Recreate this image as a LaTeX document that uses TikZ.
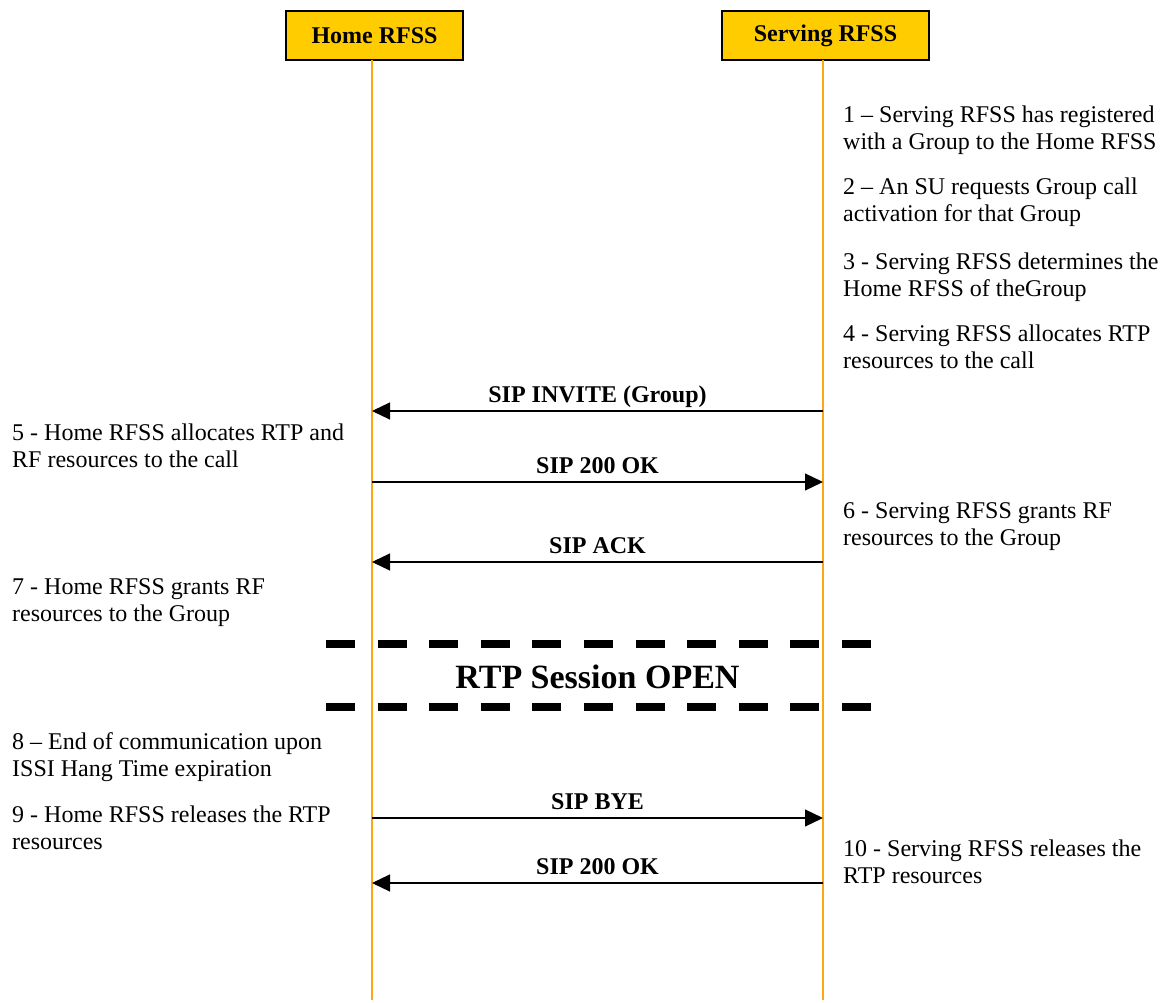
\documentclass[tikz,border=0pt]{standalone}
\usepackage{fontspec}
\setmainfont{Liberation Serif}
\usetikzlibrary{arrows.meta}
\definecolor{boxfill}{RGB}{255,204,0}
\definecolor{lifeorange}{RGB}{255,165,20}
\tikzset{
  entity/.style={draw=black, line width=1.5pt, fill=boxfill, inner sep=0pt,
    minimum height=49pt, font=\fontsize{24}{27}\selectfont\bfseries},
  life/.style={draw=lifeorange, line width=1.5pt},
  msg/.style={draw=black, line width=1.2pt, -{Triangle[length=18pt,width=17pt]}},
  lab/.style={font=\fontsize{24}{27}\selectfont\bfseries, anchor=base, inner sep=0pt, yshift=9pt},
  note/.style={font=\fontsize{24}{27}\selectfont, anchor=base west, inner sep=0pt, align=left},
  sess/.style={draw=black, line width=8pt, dash pattern=on 29pt off 22.6pt},
  sesstext/.style={font=\fontsize{34}{40}\selectfont\bfseries, anchor=base, inner sep=0pt}
}
\begin{document}
\begin{tikzpicture}[x=1pt,y=-1pt]
\useasboundingbox (0,0) rectangle (1165,1003);
% entities
\node[entity, minimum width=177pt] (home) at (374.5,35.5) {Home RFSS};
\node[entity, minimum width=207pt] (serv) at (825.5,35.5) {Serving RFSS};
% lifelines
\coordinate (hTop) at (372,60);
\coordinate (hEnd) at (372,1000);
\coordinate (sTop) at (823,60);
\coordinate (sEnd) at (823,1000);
\draw[life] (hTop) -- (hEnd);
\draw[life] (sTop) -- (sEnd);
% notes right (anchor = baseline of last line)
\node[note] (n1) at (843,150) {1 – Serving RFSS has registered\\with a Group to the Home RFSS};
\node[note] (n2) at (843,222) {2 – An SU requests Group call\\activation for that Group};
\node[note] (n3) at (843,296) {3 - Serving RFSS determines the\\Home RFSS of theGroup};
\node[note] (n4) at (843,368) {4 - Serving RFSS allocates RTP\\resources to the call};
\node[note] (n6) at (843,545) {6 - Serving RFSS grants RF\\resources to the Group};
\node[note] (n10) at (843,883) {10 - Serving RFSS releases the\\RTP resources};
% notes left
\node[note] (n5) at (12,467) {5 - Home RFSS allocates RTP and\\RF resources to the call};
\node[note] (n7) at (12,621) {7 - Home RFSS grants RF\\resources to the Group};
\node[note] (n8) at (12,776) {8 – End of communication upon\\ISSI Hang Time expiration};
\node[note] (n9) at (12,849) {9 - Home RFSS releases the RTP\\resources};
% message coordinates
\coordinate (sInv) at (823,411); \coordinate (hInv) at (372,411);
\coordinate (hOk1) at (372,482); \coordinate (sOk1) at (823,482);
\coordinate (sAck) at (823,562); \coordinate (hAck) at (372,562);
\coordinate (hBye) at (372,818); \coordinate (sBye) at (823,818);
\coordinate (sOk2) at (823,883); \coordinate (hOk2) at (372,883);
\draw[msg] (sInv) -- node[lab] (l1) {SIP INVITE (Group)} (hInv);
\draw[msg] (hOk1) -- node[lab] (l2) {SIP 200 OK} (sOk1);
\draw[msg] (sAck) -- node[lab] (l3) {SIP ACK} (hAck);
\draw[msg] (hBye) -- node[lab] (l4) {SIP BYE} (sBye);
\draw[msg] (sOk2) -- node[lab] (l5) {SIP 200 OK} (hOk2);
% session
\coordinate (d1a) at (326,644); \coordinate (d1b) at (872,644);
\coordinate (d2a) at (326,707); \coordinate (d2b) at (872,707);
\draw[sess] (d1a) -- (d1b);
\draw[sess] (d2a) -- (d2b);
\node[sesstext] (rtp) at (597.5,688) {RTP Session OPEN};
\end{tikzpicture}
\end{document}
